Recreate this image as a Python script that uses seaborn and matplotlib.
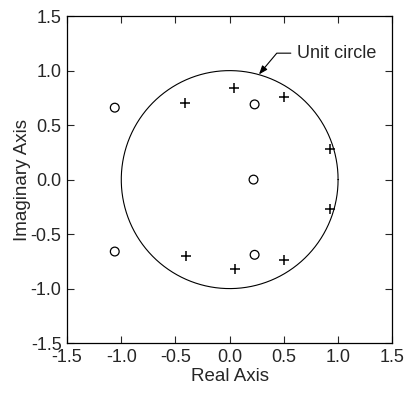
import numpy as np
import pandas as pd
import matplotlib
matplotlib.use("Agg")
import matplotlib.pyplot as plt
import seaborn as sns

# Zeros (circles)
zeros_re = [-1.06, -1.06, 0.23, 0.23, 0.22]
zeros_im = [0.66, -0.66, 0.69, -0.69, 0.0]
# Poles (plus)
poles_re = [-0.41, 0.04, 0.50, 0.93, 0.93, 0.50, 0.05, -0.40]
poles_im = [0.70, 0.84, 0.76, 0.28, -0.27, -0.74, -0.82, -0.70]

ticks = [-1.5, -1.0, -0.5, 0.0, 0.5, 1.0, 1.5]
tick_labels = ["-1.5", "-1.0", "-0.5", "0.0", "0.5", "1.0", "1.5"]

sns.set_style("ticks")
plt.rcParams['font.family'] = ['Liberation Sans', 'DejaVu Sans']

fig = plt.figure(figsize=(4.04, 3.93), dpi=100)
ax = fig.add_axes([0.166, 0.127, 0.805, 0.832])

theta = np.linspace(0, 2 * np.pi, 400)
circ = pd.DataFrame({"x": np.cos(theta), "y": np.sin(theta)})
ax.plot(circ["x"], circ["y"], color="black", lw=0.8)

zdf = pd.DataFrame({"re": zeros_re, "im": zeros_im})
pdf = pd.DataFrame({"re": poles_re, "im": poles_im})
sns.scatterplot(data=zdf, x="re", y="im", marker="o", s=40, facecolor="none",
                edgecolor="black", linewidth=0.9, ax=ax)
sns.scatterplot(data=pdf, x="re", y="im", marker="+", s=55, color="black",
                linewidth=1.1, ax=ax)

ax.annotate("Unit circle", xy=(0.27, 0.965), xytext=(0.62, 1.16),
            fontsize=13, va="center", ha="left",
            arrowprops=dict(arrowstyle="-|>,head_length=0.4,head_width=0.15",
                            color="black", lw=0.8, shrinkA=2, shrinkB=0,
                            connectionstyle="angle,angleA=0,angleB=50,rad=0"))

ax.set_xlim(-1.5, 1.5)
ax.set_ylim(-1.5, 1.5)
ax.set_xticks(ticks)
ax.set_xticklabels(tick_labels)
ax.set_yticks(ticks)
ax.set_yticklabels(tick_labels)
ax.tick_params(direction="in", top=True, right=True, length=5, width=0.8,
               labelsize=13, pad=4)
for s in ax.spines.values():
    s.set_linewidth(0.9)
    s.set_color("black")
ax.set_xlabel("Real Axis", fontsize=13.5, labelpad=2)
ax.set_ylabel("Imaginary Axis", fontsize=13.5, labelpad=0)

fig.savefig("out.png", dpi=100)
